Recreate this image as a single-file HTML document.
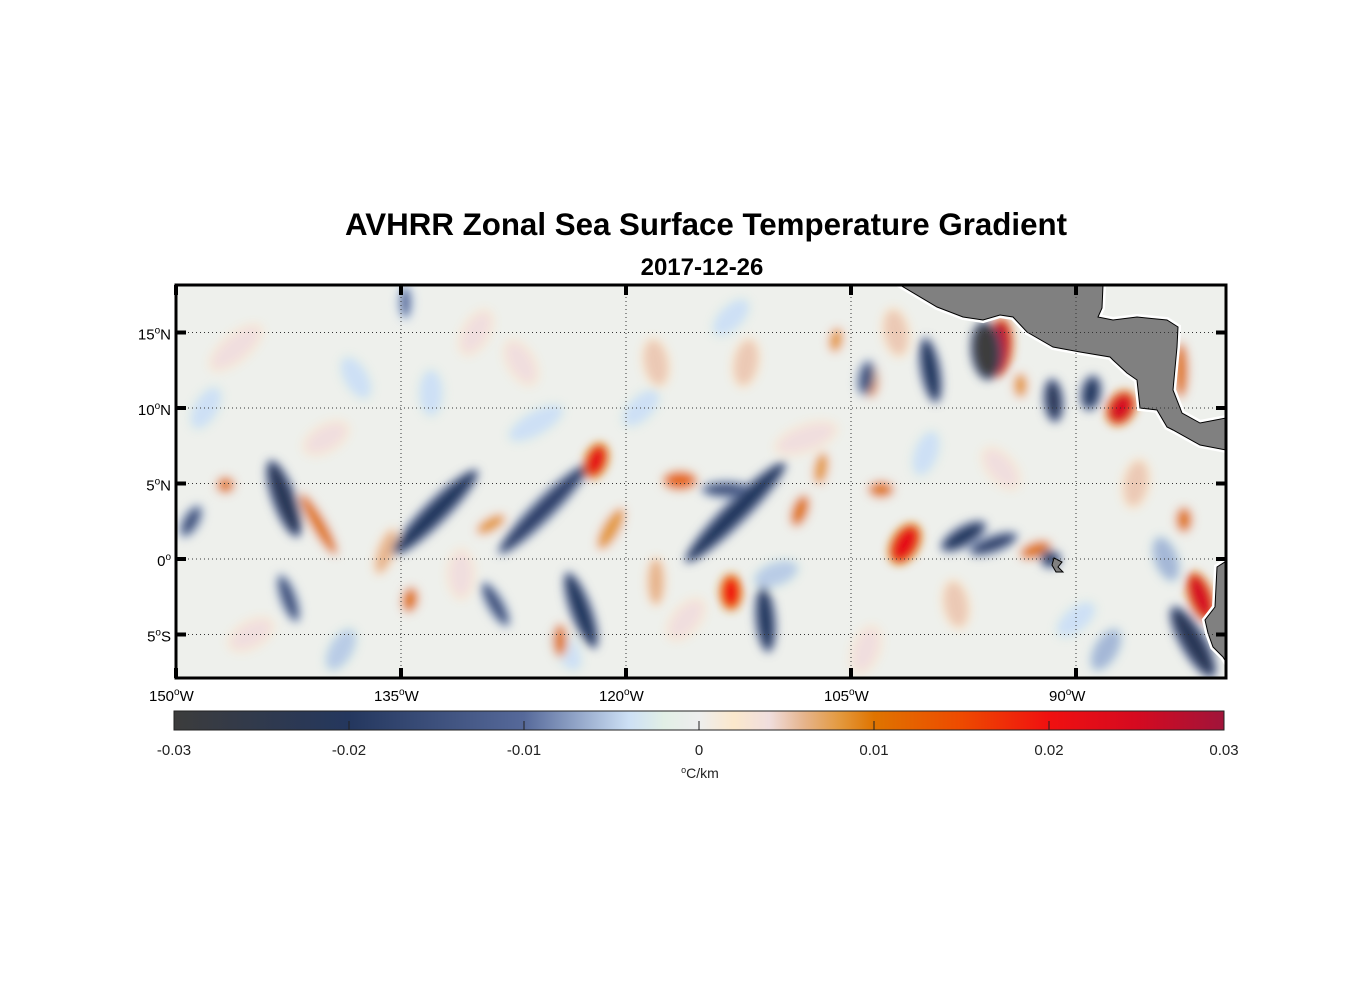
<!DOCTYPE html>
<html><head><meta charset="utf-8"><style>
body{margin:0;background:#fff;font-family:"Liberation Sans",Arial,sans-serif}
svg text{font-family:"Liberation Sans",Arial,sans-serif}
</style></head><body>
<svg id="chart" width="1356" height="1000" viewBox="0 0 1356 1000" xmlns="http://www.w3.org/2000/svg">
<defs>
<filter id="blur" x="-50%" y="-50%" width="200%" height="200%"><feGaussianBlur stdDeviation="4.5"/></filter>
<clipPath id="plotclip"><rect x="176" y="285" width="1050" height="393"/></clipPath>
<linearGradient id="cmap" x1="0" x2="1" y1="0" y2="0">
<stop offset="0" stop-color="#3c3c3c"/><stop offset="0.1667" stop-color="#24375e"/>
<stop offset="0.3333" stop-color="#56699a"/><stop offset="0.4333" stop-color="#cde0f5"/>
<stop offset="0.4667" stop-color="#e2efe6"/><stop offset="0.5" stop-color="#eeeeee"/>
<stop offset="0.5333" stop-color="#fbe8cc"/><stop offset="0.5667" stop-color="#f0dede"/>
<stop offset="0.6" stop-color="#e6b48c"/><stop offset="0.6333" stop-color="#e39a40"/>
<stop offset="0.6667" stop-color="#df7400"/><stop offset="0.75" stop-color="#ee4a00"/>
<stop offset="0.8333" stop-color="#f01010"/><stop offset="0.9167" stop-color="#d50a20"/>
<stop offset="1" stop-color="#a0143a"/></linearGradient>
</defs>
<text x="706" y="235" text-anchor="middle" font-size="31.5" font-weight="bold" textLength="722" lengthAdjust="spacingAndGlyphs">AVHRR Zonal Sea Surface Temperature Gradient</text>
<text x="702" y="275" text-anchor="middle" font-size="24" font-weight="bold">2017-12-26</text>
<g id="plot" clip-path="url(#plotclip)">
<rect x="176" y="285" width="1050" height="393" fill="#eef0ec"/>
<g id="blobs" filter="url(#blur)"></g>
<g id="land"></g>
<g id="grid"></g>
</g>
<g id="axes"></g>
<g id="cbar"></g>
</svg>
<script>
// feature data: lon, lat, value, length(deg), width(deg), angle(deg, ccw from east)
const featLon=[-142.8,-132.7,-125.5,-112.7,-113.3,-123,-110.7,-128.7,-142.5,-96,-99.7,-91.5,-89,-97.5,-91.7,-82.2,-149,-134.7,-104,-95.5,
-122,-95.1,-87,-101.4,-113,-81.7,-140.5,-116.4,-108.4,-103,-103.7,-146.7,-134.4,-129,-124.4,-92.7,-93.7,-83,-82.8,-106,-121,-118,-107,-136,
-146,-138,-130,-126,-118,-113,-108,-100,-95,-86,-145,-139,-131,-124,-116,-110,-104,-98,-90,-84,-148,-140,-133,-127,-119,-112,-102,-88];
const featLat=[4,3.1,3.3,3.1,4.6,-3.4,-4,-3,-2.6,13.8,12.5,10.5,11,1.5,0,-5.5,2.5,17,12,1,
6.5,14,10,1,-2.2,-2.5,2.3,5.2,3.2,4.6,11.8,4.9,-2.7,2.3,-5.4,0.6,11.5,12.5,2.6,14.5,2,-1.5,6,0.5,
14,12,15,9,13,16,8,7,6,5,-5,-6,-1,-6,-4,-1,-6,-3,-4,0,10,8,11,13,10,13,15,-6];
const featVal=[-0.022,-0.02,-0.018,-0.02,-0.015,-0.02,-0.02,-0.015,-0.015,-0.03,-0.02,-0.022,-0.02,-0.02,-0.02,-0.022,-0.015,-0.01,-0.015,-0.018,
0.022,0.027,0.025,0.022,0.02,0.025,0.01,0.012,0.01,0.01,0.01,0.01,0.01,0.008,0.01,0.01,0.008,0.01,0.01,0.008,0.008,0.006,0.008,0.006,
0.004,-0.004,0.004,-0.004,0.005,-0.004,0.004,-0.004,0.004,0.005,0.004,-0.005,0.004,-0.004,0.004,-0.005,0.004,0.005,-0.004,-0.006,-0.004,0.004,-0.004,0.004,-0.004,0.005,0.005,-0.006];
const featLen=[5,7.5,8,9,3,5,4,3,3,3.5,4,2.5,2,3,1,5,2,2,2,3,
2,3.5,2,2.5,2,3,4.5,2,2,1.5,2,1,1.5,2,2,2,1.5,3.5,1.5,1.5,3,3,2,3,
4,3,3,4,3,3,4,3,3,3,3,3,3,3,3,3,3,3,3,3,3,3,3,3,3,3,3,3];
const featWid=[1.2,1.2,1.1,1.2,0.8,1.1,1,0.8,0.8,1.6,1,0.9,1,1,0.8,1.3,0.8,0.7,0.8,0.8,
1.1,1.3,1.4,1.4,1.1,1.2,0.8,1,0.9,0.9,0.9,0.9,0.9,0.8,0.8,0.9,0.8,0.8,0.9,0.8,1,1,0.8,1,
1.5,1.5,1.5,1.5,1.5,1.5,1.5,1.5,1.5,1.5,1.5,1.5,1.5,1.5,1.5,1.5,1.5,1.5,1.5,1.5,1.5,1.5,1.5,1.5,1.5,1.5,1.5,1.5];
const featAng=[110,45,45,45,0,110,95,120,110,95,100,95,80,30,0,120,60,90,80,20,
70,85,60,60,90,110,120,0,70,0,90,0,80,30,90,20,90,90,90,80,60,90,80,70,
40,120,60,30,100,45,20,70,130,80,30,60,90,120,50,20,70,100,40,110,60,30,90,120,45,80,100,60];
const cbTicks=[-0.03,-0.02,-0.01,0,0.01,0.02,0.03];
const cbLabels=["-0.03","-0.02","-0.01","0","0.01","0.02","0.03"];
const lonTicks=[-150,-135,-120,-105,-90];
const lonLabels=["150","135","120","105","90"];
const latTicks=[15,10,5,0,-5];
const latLabels=["15","10","5","0","5"];
const latSuffix=["N","N","N","",  "S"];

const X=lon=>176+(lon+150)*15;
const Y=lat=>559-lat*15.1;
const C=v=>174+(v+0.03)/0.06*1050;
const NS="http://www.w3.org/2000/svg";
function mk(tag,attrs,parent){const e=document.createElementNS(NS,tag);for(const k in attrs)e.setAttribute(k,attrs[k]);parent.appendChild(e);return e;}
const stops=[[-0.03,[60,60,60]],[-0.02,[36,55,94]],[-0.01,[86,105,154]],[-0.004,[205,224,245]],[-0.002,[226,239,230]],[0,[238,238,238]],
[0.002,[251,232,204]],[0.004,[240,222,222]],[0.006,[230,180,140]],[0.008,[227,154,64]],[0.01,[223,116,0]],[0.015,[238,74,0]],[0.02,[240,16,16]],[0.025,[213,10,32]],[0.03,[160,20,58]]];
function col(v){v=Math.max(-0.03,Math.min(0.03,v));for(let i=0;i<stops.length-1;i++){const a=stops[i],b=stops[i+1];if(v<=b[0]){const t=(v-a[0])/(b[0]-a[0]);return 'rgb('+a[1].map((c,j)=>Math.round(c+(b[1][j]-c)*t)).join(',')+')';}}return 'rgb(160,20,58)';}

const blobs=document.getElementById('blobs');
const idx=featVal.map((v,i)=>i).sort((a,b)=>Math.abs(featVal[a])-Math.abs(featVal[b]));
idx.forEach(i=>{
  const cx=X(featLon[i]),cy=Y(featLat[i]);
  const g=mk('g',{transform:`rotate(${-featAng[i]} ${cx} ${cy})`},blobs);
  const e1=mk('ellipse',{cx:cx,cy:cy,rx:featLen[i]*15/2+4,ry:featWid[i]*15/2+4,fill:col(featVal[i]*0.45),opacity:0.8},g);
  
  
  const e=mk('ellipse',{cx:cx,cy:cy,rx:featLen[i]*15/2,ry:featWid[i]*15/2,fill:col(featVal[i])},g);
  
  
});

const land=document.getElementById('land');
const caPts="900,285 1103,285 1102,308 1098,317 1113,320 1137,317 1167,320 1178,327 1177,347 1173,390 1182,413 1200,423 1226,418 1226,450 1200,445 1173,430 1167,427 1157,410 1140,408 1137,380 1127,373 1113,360 1110,357 1080,352 1053,347 1027,332 1013,317 1000,315 983,320 963,317 937,307";
const ca=mk('polygon',{points:caPts,fill:"#808080",stroke:"#fff","stroke-width":"6"},land);


const ca2=mk('polygon',{points:caPts,fill:"#808080",stroke:"#000","stroke-width":"1"},land);


const saPts="1228,560 1217,567 1215,607 1205,620 1208,633 1213,647 1223,657 1228,665";
const sa0=mk('polygon',{points:saPts,fill:"#808080",stroke:"#fff","stroke-width":"6"},land);


const sa=mk('polygon',{points:saPts,fill:"#808080",stroke:"#000","stroke-width":"1"},land);


const isl=mk('polygon',{points:"1054,558 1062,562 1058,567 1063,572 1056,572 1052,565",fill:"#808080",stroke:"#000","stroke-width":"1"},land);



const grid=document.getElementById('grid');
lonTicks.forEach(l=>{const g=mk('line',{x1:X(l),x2:X(l),y1:285,y2:678,stroke:"#333","stroke-width":"1","stroke-dasharray":"1,3"},grid);
});
latTicks.forEach(l=>{const g=mk('line',{x1:176,x2:1226,y1:Y(l),y2:Y(l),stroke:"#333","stroke-width":"1","stroke-dasharray":"1,3"},grid);
});

const axes=document.getElementById('axes');
const fr=mk('rect',{x:176,y:285,width:1050,height:393,fill:"none",stroke:"#000","stroke-width":"3"},axes);

lonTicks.forEach((l,i)=>{
  mk('rect',{x:X(l)-2,y:285,width:4,height:10,fill:"#000"},axes);
  mk('rect',{x:X(l)-2,y:668,width:4,height:10,fill:"#000"},axes);
  const t=mk('text',{x:X(l)-27,y:701,"font-size":"15"},axes);
  t.innerHTML=lonLabels[i]+'<tspan dy="-6" font-size="10">o</tspan><tspan dy="6">W</tspan>';
  
});
latTicks.forEach((l,i)=>{
  mk('rect',{x:176,y:Y(l)-2,width:10,height:4,fill:"#000"},axes);
  mk('rect',{x:1216,y:Y(l)-2,width:10,height:4,fill:"#000"},axes);
  const t=mk('text',{x:171,y:Y(l)+7,"font-size":"15","text-anchor":"end"},axes);
  t.innerHTML=latLabels[i]+'<tspan dy="-6" font-size="10">o</tspan><tspan dy="6">'+latSuffix[i]+'</tspan>';
  
});

const cb=document.getElementById('cbar');
const cr=mk('rect',{x:174,y:711,width:1050,height:19,fill:"url(#cmap)",stroke:"#222","stroke-width":"1"},cb);

cbTicks.forEach((v,i)=>{
  mk('line',{x1:C(v),x2:C(v),y1:721,y2:730,stroke:"#222","stroke-width":"1"},cb);
  const t=mk('text',{x:C(v),y:755,"font-size":"15","text-anchor":"middle",fill:"#222"},cb);
  t.textContent=cbLabels[i];
  
});
const u=mk('text',{x:700,y:778,"font-size":"14","text-anchor":"middle",fill:"#222"},cb);
u.innerHTML='<tspan dy="-5" font-size="9">o</tspan><tspan dy="5">C/km</tspan>';

</script>
</body></html>
